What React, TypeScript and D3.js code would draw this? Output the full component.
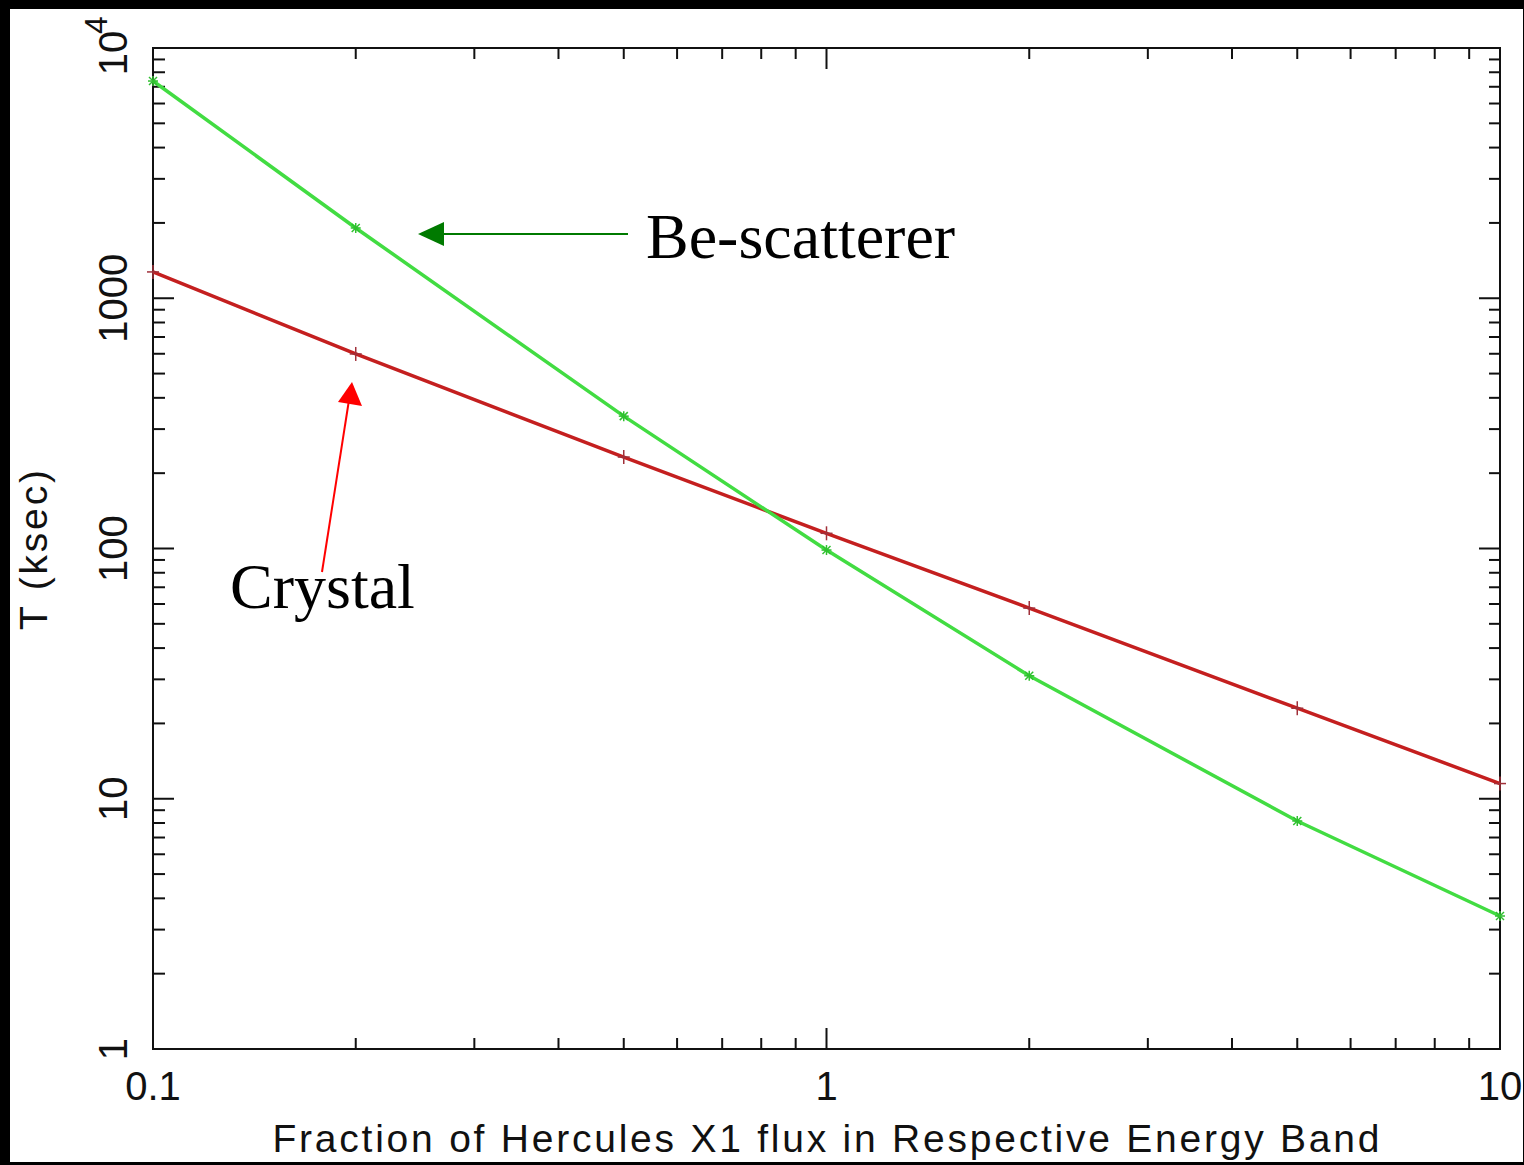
import React from "react";
import * as d3 from "d3";

const xValues = [0.1, 0.2, 0.5, 1, 2, 5, 10];
const crystalT = [1274, 599, 232, 115, 57.8, 23, 11.5];
const beScattererT = [7380, 1909, 338, 98.6, 31, 8.15, 3.4];
const xTickLabels = ["0.1", "1", "10"];
const xTickValues = [0.1, 1, 10];
const yTickValues = [1, 10, 100, 1000];
const yTickLabels = ["1", "10", "100", "1000"];

const W = 1524;
const H = 1165;
const L = 153, R = 1500, T = 48, B = 1049;

export default function App() {
  const x = d3.scaleLog().domain([0.1, 10]).range([L, R]);
  const y = d3.scaleLog().domain([1, 10000]).range([B, T]);

  const xMinor: number[] = [];
  const yMinor: number[] = [];
  for (const dec of [0.1, 1]) for (let k = 2; k <= 9; k++) xMinor.push(dec * k);
  for (const dec of [1, 10, 100, 1000]) for (let k = 2; k <= 9; k++) yMinor.push(dec * k);
  const xMajor = [0.1, 1, 10];
  const yMajor = [1, 10, 100, 1000, 10000];

  const line = d3
    .line<number>()
    .x((_, i) => x(xValues[i]))
    .y((d) => y(d));

  const font = "'Liberation Sans', 'DejaVu Sans', sans-serif";
  const serif = "'Liberation Serif', 'Times New Roman', serif";
  const tickStroke = "#111";

  return (
    <svg
      width={W}
      height={H}
      style={{ position: "absolute", left: 0, top: 0, display: "block" }}
    >
      <rect x={0} y={0} width={W} height={H} fill="#000" />
      <rect x={10} y={9} width={1513} height={1153} fill="#fff" />

      {/* axes frame */}
      <rect x={L} y={T} width={R - L} height={B - T} fill="none" stroke={tickStroke} strokeWidth={2} />

      {/* x ticks bottom/top */}
      {xMinor.map((v) => (
        <g key={"xm" + v}>
          <line x1={x(v)} x2={x(v)} y1={B} y2={B - 11} stroke={tickStroke} strokeWidth={2} />
          <line x1={x(v)} x2={x(v)} y1={T} y2={T + 11} stroke={tickStroke} strokeWidth={2} />
        </g>
      ))}
      {xMajor.map((v) => (
        <g key={"xM" + v}>
          <line x1={x(v)} x2={x(v)} y1={B} y2={B - 21} stroke={tickStroke} strokeWidth={2} />
          <line x1={x(v)} x2={x(v)} y1={T} y2={T + 21} stroke={tickStroke} strokeWidth={2} />
        </g>
      ))}
      {/* y ticks left/right */}
      {yMinor.map((v) => (
        <g key={"ym" + v}>
          <line x1={L} x2={L + 12} y1={y(v)} y2={y(v)} stroke={tickStroke} strokeWidth={2} />
          <line x1={R} x2={R - 11} y1={y(v)} y2={y(v)} stroke={tickStroke} strokeWidth={2} />
        </g>
      ))}
      {yMajor.map((v) => (
        <g key={"yM" + v}>
          <line x1={L} x2={L + 21} y1={y(v)} y2={y(v)} stroke={tickStroke} strokeWidth={2} />
          <line x1={R} x2={R - 21} y1={y(v)} y2={y(v)} stroke={tickStroke} strokeWidth={2} />
        </g>
      ))}

      {/* x tick labels */}
      {xTickValues.map((v, i) => (
        <text key={"xl" + v} x={x(v)} y={1100} fontFamily={font} fontSize={40} textAnchor="middle" fill="#111">
          {xTickLabels[i]}
        </text>
      ))}
      {/* y tick labels */}
      {yTickValues.map((v, i) => (
        <text
          key={"yl" + v}
          transform={`translate(127,${y(v)}) rotate(-90)`}
          fontFamily={font}
          fontSize={40}
          textAnchor="middle"
          fill="#111"
        >
          {yTickLabels[i]}
        </text>
      ))}
      <text transform={`translate(127,${y(10000) + 5}) rotate(-90)`} fontFamily={font} fontSize={40} textAnchor="middle" fill="#111">
        10
      </text>
      <text transform={`translate(107,${y(10000) - 23}) rotate(-90)`} fontFamily={font} fontSize={32} textAnchor="middle" fill="#111">
        4
      </text>

      {/* axis titles */}
      <text x={826} y={1152} fontFamily={font} fontSize={39} textAnchor="middle" fill="#111" textLength={1107} lengthAdjust="spacing">
        Fraction of Hercules X1 flux in Respective Energy Band
      </text>
      <text transform="translate(47,550) rotate(-90)" fontFamily={font} fontSize={39} textAnchor="middle" fill="#111" textLength={160} lengthAdjust="spacing">
        T (ksec)
      </text>

      {/* data lines */}
      <path d={line(crystalT) || ""} fill="none" stroke="#c41f1f" strokeWidth={3.5} />
      <path d={line(beScattererT) || ""} fill="none" stroke="#42dc42" strokeWidth={3.5} />

      {crystalT.map((v, i) => (
        <g key={"cm" + i} transform={`translate(${x(xValues[i])},${y(v)})`} stroke="#a0303a" strokeWidth={1.5}>
          <line x1={-6} x2={6} y1={0} y2={0} />
          <line x1={0} x2={0} y1={-7} y2={7} />
        </g>
      ))}
      {beScattererT.map((v, i) => (
        <g key={"bm" + i} transform={`translate(${x(xValues[i])},${y(v)})`} stroke="#30c030" strokeWidth={1.5}>
          <line x1={-5} x2={5} y1={0} y2={0} />
          <line x1={0} x2={0} y1={-5} y2={5} />
          <line x1={-4} x2={4} y1={-4} y2={4} />
          <line x1={-4} x2={4} y1={4} y2={-4} />
        </g>
      ))}

      {/* annotations */}
      <line x1={628} y1={234} x2={440} y2={234} stroke="#007a00" strokeWidth={2} />
      <path d="M418,234 L444,222 L444,246 z" fill="#007a00" />
      <text x={646} y={258} fontFamily={serif} fontSize={64} fill="#000">
        Be-scatterer
      </text>

      <line x1={322} y1={572} x2={349} y2={400} stroke="#ff0000" strokeWidth={2} />
      <path d="M352,382 L362,406 L338,402 z" fill="#ff0000" />
      <text x={230} y={608} fontFamily={serif} fontSize={64} fill="#000">
        Crystal
      </text>
    </svg>
  );
}
